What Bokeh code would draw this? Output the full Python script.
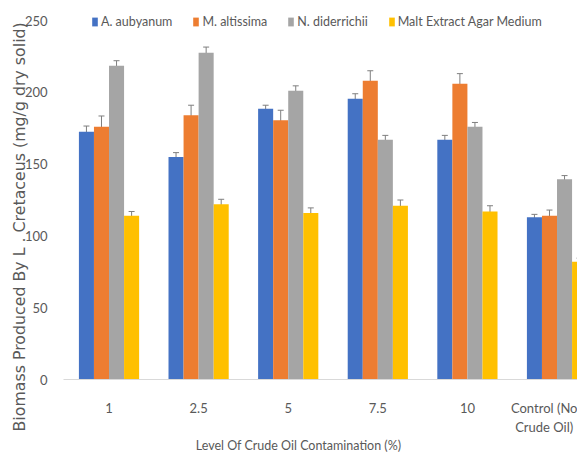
import math
from bokeh.plotting import figure
from bokeh.models import (ColumnDataSource, Range1d, FixedTicker, Whisker, TeeHead,
                          Label, Legend, LegendItem)
from bokeh.embed import file_html
from bokeh.resources import INLINE

categories = ["1", "2.5", "5", "7.5", "10", "Control (No\nCrude Oil)"]
series_names = ["A. aubyanum", "M. altissima", "N. diderrichii", "Malt Extract Agar Medium"]
a_aubyanum = [172.5, 155, 188.5, 195.5, 167, 113]
m_altissima = [176, 184, 180.5, 208, 206, 114]
n_diderrichii = [218.5, 227.5, 201, 167, 176, 139.5]
malt_agar = [114, 122, 116, 121, 117, 82]
err_a = [4, 3, 2.5, 3.5, 3, 2]
err_m = [7.5, 7, 7, 7, 7, 4]
err_n = [3.5, 4, 3.5, 3, 3, 2.5]
err_malt = [3, 3.5, 3.5, 4, 4, 2.5]
y_ticks = [0, 50, 100, 150, 200, 250]

colors = ["#4472C4", "#ED7D31", "#A5A5A5", "#FFC000"]
values = [a_aubyanum, m_altissima, n_diderrichii, malt_agar]
errors = [err_a, err_m, err_n, err_malt]

TXT = "#595959"
FONT = "Lato"
W, H = 577, 453
FL, FR, FT, FB = 63, 577, 8, 379   # frame edges in canvas px
YMAX_PX = 20                       # pixel row of value 250
scale_y = (FB - YMAX_PX) / 250.0
scale_x = 89.6
x0 = -0.508
x1 = x0 + (FR - FL) / scale_x
y1 = (FB - FT) / scale_y

p = figure(width=W, height=H, x_range=Range1d(x0, x1), y_range=Range1d(0, y1),
           output_backend="svg", toolbar_location=None,
           min_border_left=FL, min_border_right=W - FR, min_border_top=FT,
           min_border_bottom=H - FB)
p.outline_line_color = None
p.xgrid.visible = False
p.ygrid.visible = False

bar_w = 0.168
idx = list(range(len(categories)))
renderers = []
for i, (vals, errs, col) in enumerate(zip(values, errors, colors)):
    xs = [k + (i - 1.5) * bar_w for k in idx]
    src = ColumnDataSource(dict(x=xs, top=vals,
                                upper=[v + e for v, e in zip(vals, errs)],
                                lower=[v - e for v, e in zip(vals, errs)]))
    r = p.vbar(x="x", top="top", width=bar_w, bottom=0, source=src,
               fill_color=col, line_color=None)
    renderers.append(r)
    wk = Whisker(source=src, base="x", upper="upper", lower="lower",
                 line_color="#7f7f7f", line_width=1,
                 upper_head=TeeHead(size=6, line_color="#7f7f7f", line_width=1),
                 lower_head=TeeHead(size=6, line_color="#7f7f7f", line_width=1))
    p.add_layout(wk)

p.xaxis.ticker = FixedTicker(ticks=idx)
p.xaxis.major_label_overrides = {k: c for k, c in zip(idx, categories)}
p.xaxis.major_tick_line_color = None
p.xaxis.minor_tick_line_color = None
p.xaxis.axis_line_color = "#D9D9D9"
p.xaxis.major_label_text_font = FONT
p.xaxis.major_label_text_font_size = "13px"
p.xaxis.major_label_text_color = TXT
p.xaxis.major_label_standoff = 14

p.yaxis.ticker = FixedTicker(ticks=y_ticks)
p.yaxis.major_tick_line_color = None
p.yaxis.minor_tick_line_color = None
p.yaxis.axis_line_color = None
p.yaxis.major_label_text_font = FONT
p.yaxis.major_label_text_font_size = "13px"
p.yaxis.major_label_text_color = TXT
p.yaxis.major_label_standoff = 10


def rx(px):
    return x0 + (px - FL) / scale_x


def ry(py):
    return (FB - py) / scale_y


p.add_layout(Label(x=rx(19), y=ry(431), text="Biomass Produced By L . Cretaceus (mg/g dry solid)",
                   angle=math.pi / 2, text_align="left", text_baseline="middle",
                   text_font="DejaVu Sans", text_font_size="15.8px", text_color=TXT), "left")

p.add_layout(Label(x=rx(298), y=ry(445), text="Level Of Crude Oil Contamination (%)",
                   text_align="center", text_baseline="middle",
                   text_font=FONT, text_font_size="12.5px", text_color=TXT), "below")

legend = Legend(items=[LegendItem(label=n, renderers=[r]) for n, r in zip(series_names, renderers)],
                orientation="horizontal", location=(28, (FB - FT) - 21),
                glyph_width=7, glyph_height=11, label_height=14, label_standoff=3,
                spacing=20, padding=0, margin=0,
                label_text_font=FONT, label_text_font_size="12.5px", label_text_color=TXT,
                border_line_alpha=0, background_fill_alpha=0)
p.add_layout(legend, "center")

open("out.html", "w").write(file_html(p, INLINE))
